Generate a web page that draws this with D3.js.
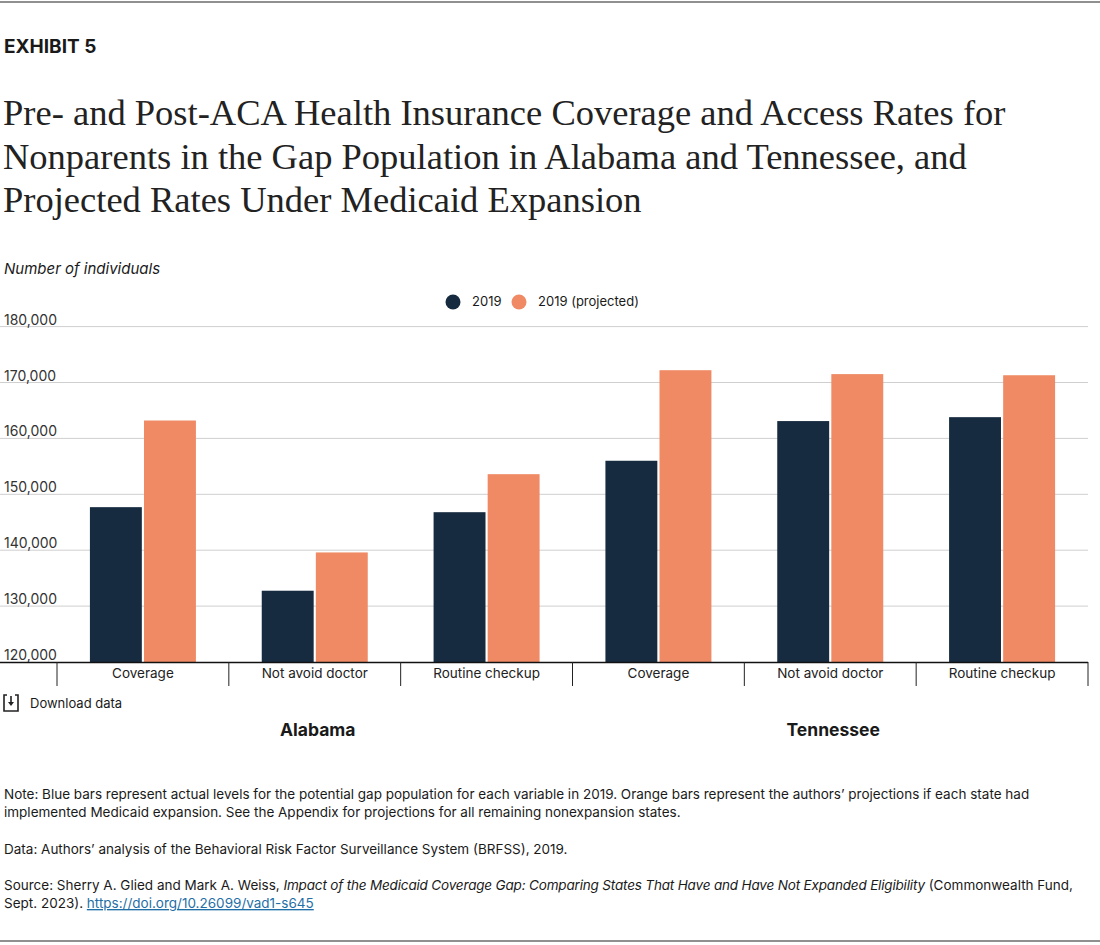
<!DOCTYPE html>
<html><head><meta charset="utf-8">
<script src="https://cdn.jsdelivr.net/npm/d3@7"></script>
<style>
body{margin:0;background:#fff;}
svg text{font-family:Inter,"Liberation Sans",sans-serif;fill:#1a1a1a;}
</style></head>
<body><svg id="c" width="1100" height="945"></svg>
<script>
const states = ["Alabama", "Tennessee"];
const measures = ["Coverage", "Not avoid doctor", "Routine checkup"];
const seriesNames = ["2019", "2019 (projected)"];
const actual2019 = [147700, 132750, 146800, 156000, 163100, 163800];
const projected2019 = [163200, 139600, 153600, 172200, 171500, 171300];
const yTicks = [120000, 130000, 140000, 150000, 160000, 170000, 180000];
const colors = ["#172b40", "#ef8a64"];

const svg = d3.select("#c");
const W = 1100;

// borders
svg.append("line").attr("x1",0).attr("x2",W).attr("y1",2).attr("y2",2).attr("stroke","#222").attr("stroke-width",1.2);
svg.append("line").attr("x1",0).attr("x2",W).attr("y1",941).attr("y2",941).attr("stroke","#222").attr("stroke-width",1.2);

svg.append("text").attr("x",4).attr("y",53).style("font-size","19px").style("font-weight","700").text("EXHIBIT 5");

const titleLines = ["Pre- and Post-ACA Health Insurance Coverage and Access Rates for",
 "Nonparents in the Gap Population in Alabama and Tennessee, and",
 "Projected Rates Under Medicaid Expansion"];
titleLines.forEach((t,i)=>{
  svg.append("text").attr("x",3).attr("y",125+i*43.5)
    .style("font-family","'Liberation Serif',serif").style("font-size","36.5px").style("fill","#222")
    .text(t);
});

svg.append("text").attr("x",4).attr("y",274).style("font-size","15px").style("font-style","italic").text("Number of individuals");

// legend
const legX = [453, 519];
seriesNames.forEach((s,i)=>{
  svg.append("circle").attr("cx",legX[i]).attr("cy",302).attr("r",7.5).attr("fill",colors[i]);
  svg.append("text").attr("x",legX[i]+19).attr("y",306).style("font-size","13px").text(s);
});

const x0 = 57, x1 = 1088, y0 = 662, y1 = 326.6;
const cats = [];
states.forEach(s=>measures.forEach(m=>cats.push(s+"|"+m)));
const x = d3.scaleBand().domain(cats).range([x0,x1]).paddingInner(0).paddingOuter(0);
const groupW = 106;
const xs = d3.scaleBand().domain(seriesNames)
  .range([(x.bandwidth()-groupW)/2, (x.bandwidth()+groupW)/2]).paddingInner(0.04).paddingOuter(0);
const y = d3.scaleLinear().domain([120000,180000]).range([y0,y1]);

// grid
const grid = svg.append("g");
yTicks.forEach(t=>{
  if(t>120000) grid.append("line").attr("x1",0).attr("x2",x1).attr("y1",y(t)).attr("y2",y(t)).attr("stroke","#cfcfcf").attr("stroke-width",1);
  grid.append("text").attr("x",4).attr("y",y(t)-2).style("font-size","14px").style("fill","#333").text(d3.format(",")(t));
});

// bars
const data = cats.map((c,i)=>({c, vals:[actual2019[i], projected2019[i]]}));
const g = svg.append("g");
data.forEach(d=>{
  d.vals.forEach((v,j)=>{
    g.append("rect").attr("x",x(d.c)+xs(seriesNames[j])).attr("width",xs.bandwidth())
      .attr("y",y(v)).attr("height",y0-y(v)).attr("fill",colors[j]);
  });
});

// axis
svg.append("line").attr("x1",0).attr("x2",x1).attr("y1",y0+0.5).attr("y2",y0+0.5).attr("stroke","#111").attr("stroke-width",1.6);
cats.concat(["end"]).forEach((c,i)=>{
  const xx = i<cats.length ? x(c) : x1;
  svg.append("line").attr("x1",xx).attr("x2",xx).attr("y1",y0).attr("y2",686).attr("stroke","#222").attr("stroke-width",1);
});
cats.forEach(c=>{
  svg.append("text").attr("x",x(c)+x.bandwidth()/2).attr("y",678).attr("text-anchor","middle")
    .style("font-size","13.5px").style("fill","#222").text(c.split("|")[1]);
});

// download
const dl = svg.append("g").attr("transform","translate(4,695)");
dl.append("path").attr("d","M3,0 H0 V16 H14 V0 H11").attr("fill","none").attr("stroke","#222").attr("stroke-width",1.6);
dl.append("line").attr("x1",7).attr("x2",7).attr("y1",1).attr("y2",9).attr("stroke","#222").attr("stroke-width",1.6);
dl.append("path").attr("d","M4,7 L7,11 L10,7 Z").attr("fill","#222");
svg.append("text").attr("x",30).attr("y",708).style("font-size","13px").text("Download data");

// state labels
states.forEach((s,i)=>{
  const first = x(s+"|"+measures[0]);
  const last = x(s+"|"+measures[2])+x.bandwidth();
  svg.append("text").attr("x",(first+last)/2+3).attr("y",736).attr("text-anchor","middle")
    .style("font-size","17.5px").style("font-weight","700").text(s);
});

// notes
const fs = "13.5px";
svg.append("text").attr("x",4).attr("y",799).style("font-size",fs)
  .text("Note: Blue bars represent actual levels for the potential gap population for each variable in 2019. Orange bars represent the authors’ projections if each state had");
svg.append("text").attr("x",4).attr("y",817).style("font-size",fs)
  .text("implemented Medicaid expansion. See the Appendix for projections for all remaining nonexpansion states.");
svg.append("text").attr("x",4).attr("y",854).style("font-size",fs)
  .text("Data: Authors’ analysis of the Behavioral Risk Factor Surveillance System (BRFSS), 2019.");
const src = svg.append("text").attr("x",4).attr("y",890).style("font-size",fs);
src.append("tspan").text("Source: Sherry A. Glied and Mark A. Weiss, ");
src.append("tspan").style("font-style","italic").style("letter-spacing","-0.17px").text("Impact of the Medicaid Coverage Gap: Comparing States That Have and Have Not Expanded Eligibility");
src.append("tspan").text(" (Commonwealth Fund,");
const src2 = svg.append("text").attr("x",4).attr("y",908).style("font-size",fs);
src2.append("tspan").text("Sept. 2023). ");
src2.append("tspan").style("fill","#1f6fa6").style("text-decoration","underline").text("https://doi.org/10.26099/vad1-s645");
</script></body></html>
